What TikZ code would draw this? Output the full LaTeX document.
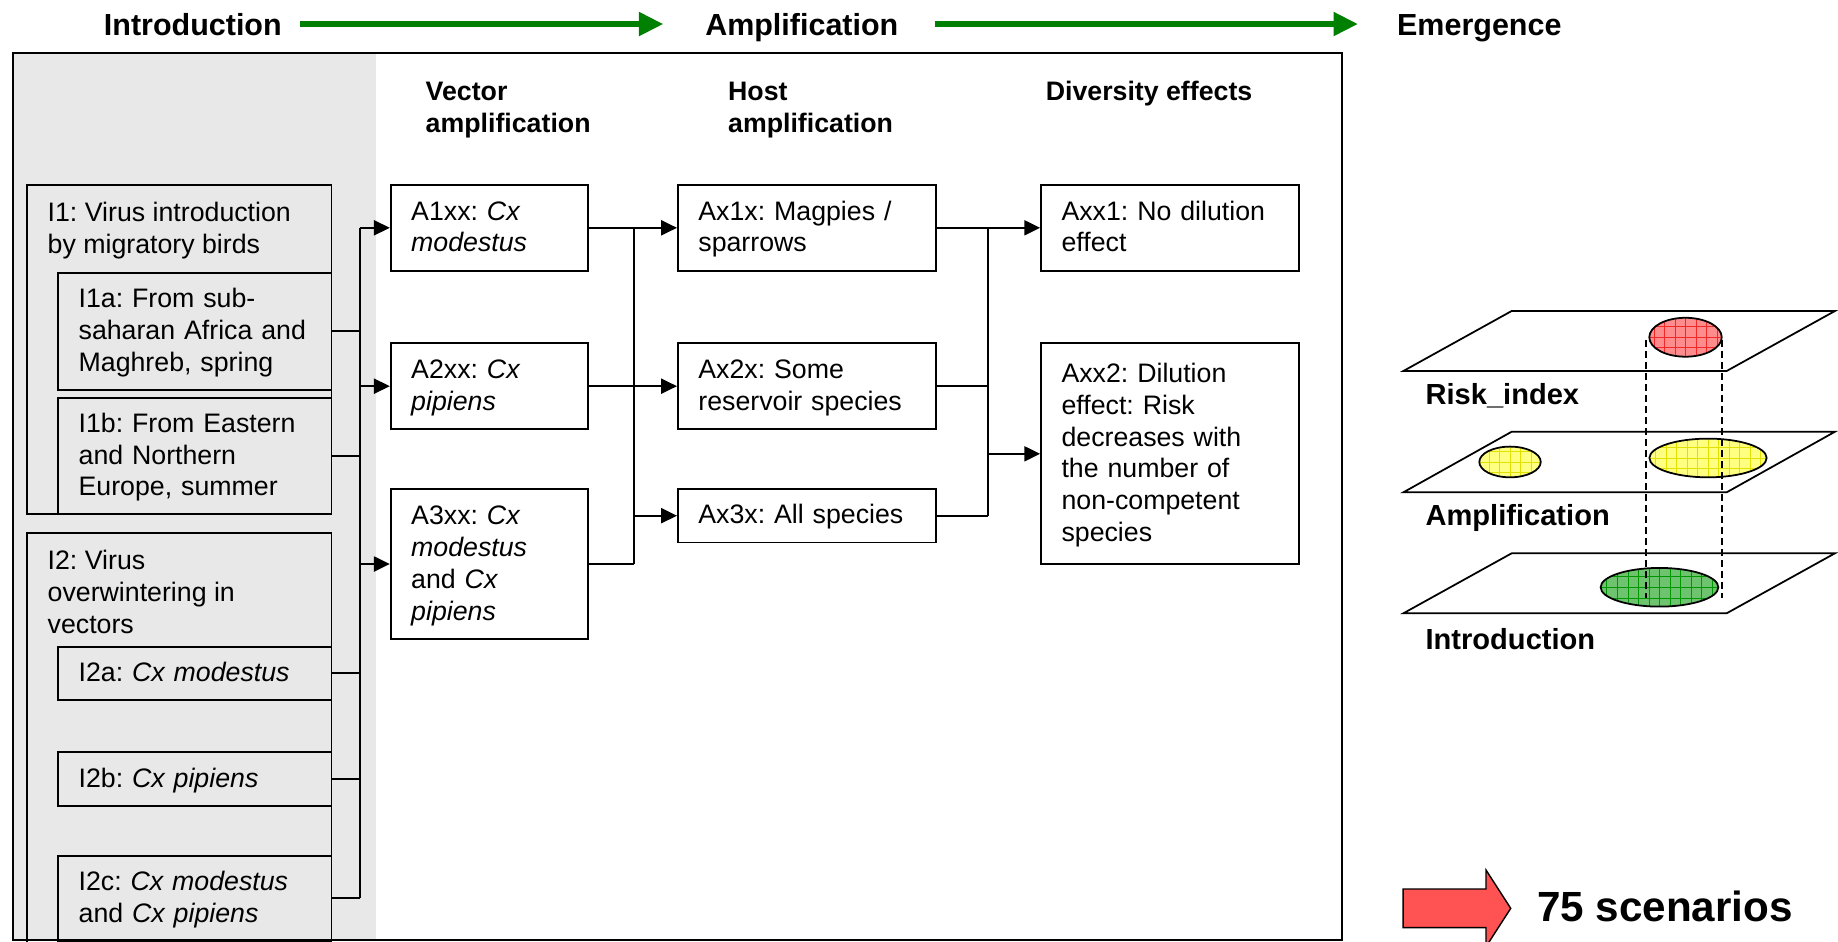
\documentclass[tikz,border=0pt]{standalone}
\usepackage{fontspec}
\setmainfont{Liberation Sans}
\usetikzlibrary{arrows.meta}
\frenchspacing
\definecolor{hdrgreen}{RGB}{0,128,0}
\definecolor{bggray}{RGB}{232,232,232}
\definecolor{bigred}{RGB}{255,82,82}
\definecolor{redfill}{RGB}{255,140,140}
\definecolor{redgrid}{RGB}{240,40,40}
\definecolor{yelfill}{RGB}{255,255,130}
\definecolor{yelgrid}{RGB}{225,225,0}
\definecolor{grnfill}{RGB}{110,195,110}
\definecolor{grngrid}{RGB}{0,150,0}
\newcommand\bodyfont{\fontsize{22.8pt}{27.2pt}\selectfont\frenchspacing}
\newcommand\hdrfont{\fontsize{26pt}{30pt}\selectfont\bfseries}
\newcommand\mystrut{\rule[-6.6pt]{0pt}{27.2pt}}
\newcommand\hatchellipse[6]{%
  \begin{scope}
    \clip (#1,#2) ellipse [x radius=#3pt, y radius=#4pt];
    \fill[#5] (#1-#3,#2-#4) rectangle (#1+#3,#2+#4);
    \foreach \k in {-8,...,8} {
      \draw[#6,line width=0.55pt] (#1+\k*9,#2-#4) -- (#1+\k*9,#2+#4);
      \draw[#6,line width=0.55pt] (#1-#3,#2+\k*9) -- (#1+#3,#2+\k*9);
    }
  \end{scope}
  \draw[line width=1.5pt] (#1,#2) ellipse [x radius=#3pt, y radius=#4pt];}
\begin{document}
\begin{tikzpicture}[x=1pt,y=-1pt,
  conn/.style={line width=1.6pt},
  arr/.style={line width=1.6pt,-{Triangle[length=13.5pt,width=12.8pt]}},
  box/.style={draw,line width=1.5pt,rectangle,inner xsep=17.5pt,inner ysep=0pt,align=left,font=\bodyfont},
  hdr/.style={font=\hdrfont,inner sep=0pt,anchor=base},
  sub/.style={font=\bfseries\bodyfont,inner sep=0pt,anchor=north west,align=left},
  txt/.style={font=\bodyfont,inner sep=0pt,anchor=north west,align=left},
  greenarr/.style={draw=hdrgreen,line width=5.7pt,-{Triangle[length=21pt,width=19.3pt]}},
  layerlab/.style={font=\bfseries\fontsize{24.8pt}{29pt}\selectfont,inner sep=0pt,anchor=base west},
  plane/.style={draw,fill=white,line width=1.5pt,line join=miter},
  dashline/.style={line width=1.6pt,dash pattern=on 6pt off 3.4pt}
]
\clip (0,0) rectangle (1568,803);

% headers
\node[hdr] (hIntro) at (164.5,29.9) {Introduction};
\node[hdr] (hAmp) at (684,29.9) {Amplification};
\node[hdr] (hEm) at (1262,29.9) {Emergence};
\coordinate (g1s) at (256,20.5);
\coordinate (g1e) at (566,20.5);
\coordinate (g2s) at (798,20.5);
\coordinate (g2e) at (1158.6,20.5);
\draw[greenarr] (g1s) -- (g1e);
\draw[greenarr] (g2s) -- (g2e);

% frame
\fill[bggray] (11,45) rectangle (321,802);
\draw[line width=1.7pt] (11,45) rectangle (1145,802);

% sub headers
\node[sub] (sVec) at (363,64.7) {\mystrut Vector\\amplification};
\node[sub] (sHost) at (621,64.7) {\mystrut Host\\amplification};
\node[sub] (sDiv) at (892,64.7) {\mystrut Diversity effects};

% introduction boxes
\node[box,minimum width=259.8pt,minimum height=280.7pt,text width=224.8pt] (I1) at (152.8,298.15) {};
\node[txt] (I1t) at (40.5,168.4) {\mystrut I1: Virus introduction\\by migratory birds};
\node[box,minimum width=233.1pt,minimum height=100.1pt,text width=198.1pt] (I1a) at (166.15,282.65)
  {\mystrut I1a: From sub-\\saharan Africa and\\Maghreb, spring\mystrut};
\node[box,minimum width=233.1pt,minimum height=99.2pt,text width=198.1pt] (I1b) at (166.15,388.9)
  {\mystrut I1b: From Eastern\\and Northern\\Europe, summer\mystrut};
\node[box,minimum width=259.8pt,minimum height=360pt,text width=224.8pt] (I2) at (152.8,635) {};
\node[txt] (I2t) at (40.5,465.4) {\mystrut I2: Virus\\overwintering in\\vectors};
\node[box,minimum width=233.1pt,minimum height=45.5pt,text width=198.1pt] (I2a) at (166.15,574.45)
  {\mystrut I2a: \textit{Cx modestus}\mystrut};
\node[box,minimum width=233.1pt,minimum height=45.5pt,text width=198.1pt] (I2b) at (166.15,664.55)
  {\mystrut I2b: \textit{Cx pipiens}\mystrut};
\node[box,minimum width=233.1pt,minimum height=72.2pt,text width=198.1pt] (I2c) at (166.15,766.4)
  {\mystrut I2c: \textit{Cx modestus}\\and \textit{Cx pipiens}\mystrut};

% vector boxes
\node[box,fill=white,minimum width=168.3pt,minimum height=73.1pt,text width=133.3pt] (A1) at (417.45,194.35)
  {\mystrut A1xx: \textit{Cx}\\\textit{modestus}\mystrut};
\node[box,fill=white,minimum width=168.3pt,minimum height=73.1pt,text width=133.3pt] (A2) at (417.45,329.45)
  {\mystrut A2xx: \textit{Cx}\\\textit{pipiens}\mystrut};
\node[box,fill=white,minimum width=168.3pt,minimum height=127.9pt,text width=133.3pt] (A3) at (417.45,481.15)
  {\mystrut A3xx: \textit{Cx}\\\textit{modestus}\\and \textit{Cx}\\\textit{pipiens}\mystrut};

% host boxes
\node[box,fill=white,minimum width=219.9pt,minimum height=73.1pt,text width=184.9pt] (H1) at (688.25,194.35)
  {\mystrut Ax1x: Magpies /\\sparrows\mystrut};
\node[box,fill=white,minimum width=219.9pt,minimum height=73.1pt,text width=184.9pt] (H2) at (688.25,329.45)
  {\mystrut Ax2x: Some\\reservoir species\mystrut};
\node[box,fill=white,minimum width=219.9pt,minimum height=45.5pt,text width=184.9pt] (H3) at (688.25,439.95)
  {\mystrut Ax3x: All species\mystrut};

% diversity boxes
\node[box,fill=white,minimum width=219.9pt,minimum height=73.1pt,text width=184.9pt] (D1) at (998.05,194.35)
  {\mystrut Axx1: No dilution\\effect\mystrut};
\node[box,fill=white,minimum width=219.9pt,minimum height=188.5pt,text width=184.9pt] (D2) at (998.05,387.15)
  {\mystrut Axx2: Dilution\\effect: Risk\\decreases with\\the number of\\non-competent\\species\mystrut};

% connectors: introduction -> vectors
\coordinate (bus1) at (307,0);
\foreach \n in {I1a,I1b,I2a,I2b,I2c} \draw[conn] (\n.east) -- (\n.east -| bus1);
\draw[conn] (bus1 |- A1.west) -- (bus1 |- I2c.east);
\foreach \n in {A1,A2,A3} \draw[arr] (bus1 |- \n.west) -- (\n.west);

% vectors -> hosts
\coordinate (bus2) at (540.5,0);
\foreach \n in {A1,A2,A3} \draw[conn] (\n.east) -- (\n.east -| bus2);
\draw[conn] (bus2 |- A1.east) -- (bus2 |- A3.east);
\foreach \n in {H1,H2,H3} \draw[arr] (bus2 |- \n.west) -- (\n.west);

% hosts -> diversity
\coordinate (bus3) at (842.8,0);
\foreach \n in {H1,H2,H3} \draw[conn] (\n.east) -- (\n.east -| bus3);
\draw[conn] (bus3 |- H1.east) -- (bus3 |- H3.east);
\foreach \n in {D1,D2} \draw[arr] (bus3 |- \n.west) -- (\n.west);

% layers
\draw[plane] (1197.2,316.5) -- (1289.6,265.3) -- (1565.4,265.3) -- (1473,316.5) -- cycle;
\draw[plane] (1197.2,420) -- (1289.6,368.3) -- (1565.4,368.3) -- (1473,420) -- cycle;
\draw[plane] (1197.2,523.2) -- (1289.6,472) -- (1565.4,472) -- (1473,523.2) -- cycle;
\hatchellipse{1437.9}{287.7}{30.9}{16.6}{redfill}{redgrid}
\hatchellipse{1288.2}{394.1}{26.2}{13.1}{yelfill}{yelgrid}
\hatchellipse{1457.1}{390.7}{50}{16.5}{yelfill}{yelgrid}
\hatchellipse{1415.7}{501}{50.2}{16.5}{grnfill}{grngrid}
\draw[dashline] (1403.9,290) -- (1403.9,510.4);
\draw[dashline] (1468.8,290) -- (1468.8,510.4);
\node[layerlab] (lRisk) at (1216,345.5) {Risk\_index};
\node[layerlab] (lAmp) at (1216,448.4) {Amplification};
\node[layerlab] (lIntro) at (1216,554.5) {Introduction};

% scenarios
\draw[fill=bigred,line width=1.2pt,line join=miter] (1197,758.4) -- (1267.7,758.4) -- (1267.7,742.2) -- (1288.8,774.9)
  -- (1267.7,807.6) -- (1267.7,791.4) -- (1197,791.4) -- cycle;
\node[font=\bfseries\fontsize{36pt}{40pt}\selectfont,inner sep=0pt,anchor=base west] (scen) at (1311,786.3) {75 scenarios};
\end{tikzpicture}
\end{document}
